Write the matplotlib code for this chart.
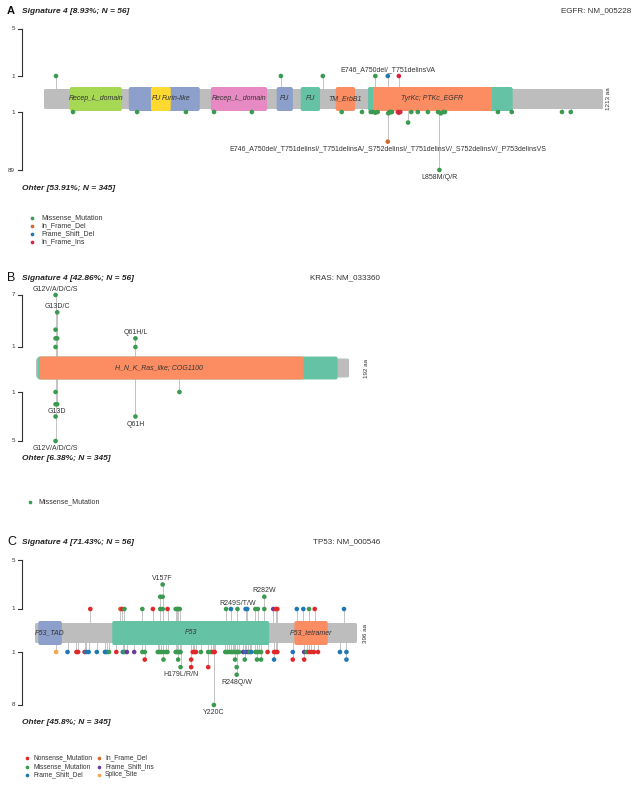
import matplotlib
matplotlib.use("Agg")
import matplotlib.pyplot as plt
import matplotlib.transforms as mtransforms
from matplotlib.patches import FancyBboxPatch

plt.rcParams['font.family'] = ['Liberation Sans', 'DejaVu Sans']

W, H = 640, 798

# ---------------- variant class colours
vc_colors = {
    'Missense_Mutation': '#3a9a50',
    'Nonsense_Mutation': '#e0282a',
    'Frame_Shift_Del': '#1f78b4',
    'Frame_Shift_Ins': '#6a3d9a',
    'In_Frame_Del': '#d2692e',
    'In_Frame_Ins': '#d7263d',
    'Splice_Site': '#f5a54a',
}
M, N, FSD, FSI, IFD, IFI, SS = ('Missense_Mutation', 'Nonsense_Mutation', 'Frame_Shift_Del',
                                'Frame_Shift_Ins', 'In_Frame_Del', 'In_Frame_Ins', 'Splice_Site')

# ================= EGFR =================
egfr_len = 1213
egfr_dom_start = [56, 184, 232, 362, 505, 557, 633, 703, 714]
egfr_dom_end = [169, 338, 275, 484, 540, 599, 675, 1017, 972]
egfr_dom_name = ['Recep_L_domain', 'Furin-like', 'FU', 'Recep_L_domain', 'FU', 'FU', 'TM_ErbB1', '',
                 'TyrKc; PTKc_EGFR']
egfr_dom_color = ['#a6d854', '#8da0cb', '#ffd92f', '#e78ac3', '#8da0cb', '#66c2a5', '#fc8d62', '#66c2a5',
                  '#fc8d62']
egfr_top_pos = [26, 514, 605, 719, 746, 770]
egfr_top_cnt = [1, 1, 1, 1, 1, 1]
egfr_top_cls = [M, M, M, M, FSD, IFI]
egfr_bot_pos = [63, 202, 308, 369, 451, 646, 690, 709, 714, 719, 724, 746, 747, 749, 750, 752, 755,
                768, 770, 773, 790, 797, 811, 833, 855, 858, 861, 866, 870, 985, 1015, 1124, 1143]
egfr_bot_cnt = [1, 1, 1, 1, 1, 1, 1, 1, 1, 2, 1, 46, 3, 2, 1, 1, 1,
                1, 2, 1, 17, 1, 1, 1, 1, 89, 3, 1, 1, 1, 1, 1, 1]
egfr_bot_cls = [M, M, M, M, M, M, M, M, M, M, M, IFD, M, M, M, M, M,
                IFI, IFI, IFI, M, M, M, M, M, M, M, M, M, M, M, M, M]
egfr_top_labels = [(746, 1, 'E746_A750del/_T751delinsVA')]
egfr_bot_labels = [(746, 46, 'E746_A750del/_T751delinsI/_T751delinsA/_S752delinsI/_T751delinsV/'
                             '_S752delinsV/_P753delinsVS'),
                   (858, 89, 'L858M/Q/R')]
egfr_legend = [M, IFD, FSD, IFI]

# ================= KRAS =================
kras_len = 192
kras_dom_start = [1, 2]
kras_dom_end = [185, 164]
kras_dom_name = ['', 'H_N_K_Ras_like; COG1100']
kras_dom_color = ['#66c2a5', '#fc8d62']
kras_top_pos = [12, 12, 12, 12, 13, 13, 61, 61]
kras_top_cnt = [7, 3, 2, 1, 5, 2, 2, 1]
kras_top_cls = [M] * 8
kras_bot_pos = [12, 12, 12, 12, 13, 61, 88]
kras_bot_cnt = [1, 2, 3, 5, 2, 3, 1]
kras_bot_cls = [M] * 7
kras_top_labels = [(12, 7, 'G12V/A/D/C/S'), (13, 5, 'G13D/C'), (61, 2, 'Q61H/L')]
kras_bot_labels = [(13, 2, 'G13D'), (61, 3, 'Q61H'), (12, 5, 'G12V/A/D/C/S')]
kras_legend = [M]

# ================= TP53 =================
tp53_len = 396
tp53_dom_start = [4, 95, 319]
tp53_dom_end = [33, 288, 360]
tp53_dom_name = ['P53_TAD', 'P53', 'P53_tetramer']
tp53_dom_color = ['#8da0cb', '#66c2a5', '#fc8d62']
tp53_top_pos = [68, 105, 107, 110, 132, 145, 154, 154, 157, 157, 157, 163, 173, 175, 176, 178,
                235, 241, 249, 259, 261, 271, 274, 282, 282, 293, 296, 298, 322, 330, 337, 344, 380]
tp53_top_cnt = [1, 1, 1, 1, 1, 1, 1, 2, 1, 2, 3, 1, 1, 1, 1, 1,
                1, 1, 1, 1, 1, 1, 1, 1, 2, 1, 1, 1, 1, 1, 1, 1, 1]
tp53_top_cls = [N, IFD, N, M, M, N, M, M, M, M, M, N, M, M, M, M,
                M, FSD, M, FSD, FSD, M, M, M, M, FSI, N, N, FSD, FSD, M, N, FSD]
tp53_bot_pos = [26, 40, 51, 53, 61, 63, 66, 76, 86, 88, 91, 100, 108, 110, 113, 122, 132, 135,
                151, 153, 155, 158, 161, 163, 173, 175, 176, 178, 179, 194, 196, 198, 204, 213,
                216, 219, 221, 234, 236, 238, 241, 243, 245, 248, 249, 251, 256, 259, 262, 264,
                266, 271, 273, 275, 278, 286, 294, 296, 298, 317, 331, 334, 337, 340, 343, 348,
                375, 383,
                135, 158, 176, 192, 246, 258, 273, 278, 294, 317, 331, 383,
                179, 192, 213, 248,
                248,
                220]
tp53_bot_cnt = [1] * 68 + [2] * 12 + [3] * 4 + [4] + [8]
tp53_bot_cls = [SS, FSD, N, N, N, FSD, FSD, FSD, FSD, FSD, M, N, FSD, M, FSI, FSI, M, M,
                M, M, M, M, M, M, M, M, M, M, M, N, N, N, M, M,
                M, N, N, M, M, M, M, M, M, M, M, M, FSI, FSD, FSI, M,
                FSD, M, M, M, M, N, N, N, N, FSD, FSI, M, N, N, N, N,
                FSD, FSD,
                N, M, M, N, M, M, M, M, FSD, N, N, FSD,
                M, N, N, M,
                M,
                M]
tp53_top_labels = [(157, 3, 'V157F'), (282, 2, 'R282W'), (249, 1, 'R249S/T/W')]
tp53_bot_labels = [(179, 3, 'H179L/R/N'), (248, 4, 'R248Q/W'), (220, 8, 'Y220C')]
tp53_legend = [N, M, FSD, IFD, FSI, SS]

fig = plt.figure(figsize=(W / 100, H / 100), dpi=100)
overlay = fig.add_axes([0, 0, 1, 1])
overlay.set_xlim(0, W)
overlay.set_ylim(H, 0)
overlay.axis('off')

TXT = '#333333'


def draw_panel(letter, title, other, gene_label, length, dstart, dend, dname, dcolor,
               tpos, tcnt, tcls, bpos, bcnt, bcls, tlabels, blabels, legend, lay):
    x0, x1, yc = lay['x0'], lay['x1'], lay['yc']
    t1, tm, b1, bm = lay['t1'], lay['tm'], lay['b1'], lay['bm']
    ax = fig.add_axes([x0 / W, 1 - bm / H, (x1 - x0) / W, (bm - tm) / H])
    ax.set_xlim(0, length)
    ax.set_ylim(-(bm - yc), yc - tm)
    ax.axis('off')
    ppa = (x1 - x0) / length  # px per aa

    tmax = max(5, max(tcnt))
    bmax = max(5, max(bcnt))

    def ty(c):
        return (yc - t1) + (c - 1) * (t1 - tm) / (tmax - 1)

    def by(c):
        return -((b1 - yc) + (c - 1) * (bm - b1) / (bmax - 1))

    # protein bar
    bh, dh = lay['bar_h'], lay['dom_h']
    ax.add_patch(FancyBboxPatch((0, -bh), length, 2 * bh,
                                boxstyle='round,pad=0,rounding_size=%f' % (1.5 / ppa),
                                mutation_aspect=ppa, facecolor='#bdbdbd', edgecolor='none', zorder=2))
    label_rule = lay.get('dom_label', {})
    for i, (s, e, n, c) in enumerate(zip(dstart, dend, dname, dcolor)):
        ax.add_patch(FancyBboxPatch((s, -dh), e - s, 2 * dh,
                                    boxstyle='round,pad=0,rounding_size=%f' % (2.0 / ppa),
                                    mutation_aspect=ppa, facecolor=c, edgecolor='none', zorder=3))
        if n:
            ha, ref, dx = label_rule.get(i, ('center', i, 0))
            ax.annotate(n, xy=((dstart[ref] + dend[ref]) / 2, 0), xytext=(dx, 0),
                        textcoords='offset points', ha=ha, va='center', fontsize=5,
                        style='italic', color=TXT, zorder=4)
    ax.text(length + 11, 0, '%d aa' % length, rotation=90, ha='center', va='center',
            fontsize=4.5, color=TXT)

    # stems
    def stems(pos, cnt, f):
        mx = {}
        for p, c in zip(pos, cnt):
            mx[p] = max(mx.get(p, 0), c)
        ps = sorted(mx)
        ax.vlines(ps, 0, [f(mx[p]) for p in ps], colors='#c4c4c4', linewidth=0.7, zorder=1,
                  clip_on=False)

    stems(tpos, tcnt, ty)
    stems(bpos, bcnt, by)
    ax.scatter(tpos, [ty(c) for c in tcnt], s=11, c=[vc_colors[k] for k in tcls], linewidths=0,
               zorder=5, clip_on=False)
    ax.scatter(bpos, [by(c) for c in bcnt], s=11, c=[vc_colors[k] for k in bcls], linewidths=0,
               zorder=5, clip_on=False)

    for p, c, t in tlabels:
        ax.annotate(t, xy=(p, ty(c)), xytext=(0, 4.2), textcoords='offset points', ha='center',
                    va='center', fontsize=5, color=TXT, zorder=6)
    for p, c, t in blabels:
        ax.annotate(t, xy=(p, by(c)), xytext=(0, -5.4), textcoords='offset points', ha='center',
                    va='center', fontsize=5, color=TXT, zorder=6)

    # y-axis brackets
    bl = mtransforms.blended_transform_factory(overlay.transData, ax.transData)
    for ya, yb_, la, lb in [(ty(1), ty(tmax), '1', str(tmax)), (by(1), by(bmax), '1', str(bmax))]:
        ax.plot([21.5, 21.5], [ya, yb_], color='#333333', lw=0.8, transform=bl, clip_on=False)
        for yy, lab in [(ya, la), (yb_, lb)]:
            ax.plot([18, 21.5], [yy, yy], color='#333333', lw=0.8, transform=bl, clip_on=False)
            ax.text(15, yy, lab, transform=bl, ha='right', va='center', fontsize=4.5, color=TXT)

    # titles
    overlay.text(7, lay['title_y'], letter, ha='left', va='center', fontsize=lay['letter_fs'],
                 fontweight=lay['letter_fw'], color='#111111')
    overlay.text(22, lay['title_y'] + 0.5, title, ha='left', va='center', fontsize=6,
                 fontweight='bold', style='italic', color='#222222')
    overlay.text(lay['gene_x'], lay['title_y'], gene_label, ha='right', va='center', fontsize=5.8,
                 color=TXT)
    overlay.text(22, lay['other_y'], other, ha='left', va='center', fontsize=6,
                 fontweight='bold', style='italic', color='#222222')

    # legend
    for i, cls in enumerate(legend):
        col, row = divmod(i, lay['leg_rows'])
        lx = lay['leg_x'][col]
        ly = lay['leg_y'] + row * lay['leg_dy']
        overlay.scatter([lx], [ly], s=7, c=vc_colors[cls], linewidths=0)
        overlay.text(lx + lay['leg_gap'], ly, cls, ha='left', va='center',
                     fontsize=lay.get('leg_fs', 5), color=TXT)


draw_panel('A', 'Signature 4 [8.93%; N = 56]', 'Ohter [53.91%; N = 345]', 'EGFR: NM_005228',
           egfr_len, egfr_dom_start, egfr_dom_end, egfr_dom_name, egfr_dom_color,
           egfr_top_pos, egfr_top_cnt, egfr_top_cls, egfr_bot_pos, egfr_bot_cnt, egfr_bot_cls,
           egfr_top_labels, egfr_bot_labels, egfr_legend,
           dict(x0=44, x1=603, yc=99, bar_h=10, dom_h=12, t1=76, tm=29, b1=112, bm=170,
                title_y=11, other_y=188, gene_x=631, letter_fs=8, letter_fw='bold',
                dom_label={1: ('left', 2, 0.6), 2: ('right', 2, -0.2)},
                leg_x=[32], leg_y=218, leg_dy=8, leg_rows=4, leg_gap=9))

draw_panel('B', 'Signature 4 [42.86%; N = 56]', 'Ohter [6.38%; N = 345]', 'KRAS: NM_033360',
           kras_len, kras_dom_start, kras_dom_end, kras_dom_name, kras_dom_color,
           kras_top_pos, kras_top_cnt, kras_top_cls, kras_bot_pos, kras_bot_cnt, kras_bot_cls,
           kras_top_labels, kras_bot_labels, kras_legend,
           dict(x0=36, x1=349, yc=368, bar_h=9.5, dom_h=11.5, t1=347, tm=295, b1=392, bm=441,
                title_y=278, other_y=458, gene_x=380, letter_fs=9, letter_fw='normal',
                dom_label={1: ('center', 1, -9)},
                leg_x=[30], leg_y=502, leg_dy=8, leg_rows=1, leg_gap=8))

draw_panel('C', 'Signature 4 [71.43%; N = 56]', 'Ohter [45.8%; N = 345]', 'TP53: NM_000546',
           tp53_len, tp53_dom_start, tp53_dom_end, tp53_dom_name, tp53_dom_color,
           tp53_top_pos, tp53_top_cnt, tp53_top_cls, tp53_bot_pos, tp53_bot_cnt, tp53_bot_cls,
           tp53_top_labels, tp53_bot_labels, tp53_legend,
           dict(x0=35, x1=357, yc=633, bar_h=10, dom_h=12, t1=609, tm=560, b1=652, bm=705,
                title_y=542, other_y=723, gene_x=380, letter_fs=9, letter_fw='normal',
                leg_x=[27, 99], leg_y=758, leg_dy=8.5, leg_rows=3, leg_gap=6, leg_fs=4.8))

fig.savefig('out.png', dpi=100, facecolor='white')
